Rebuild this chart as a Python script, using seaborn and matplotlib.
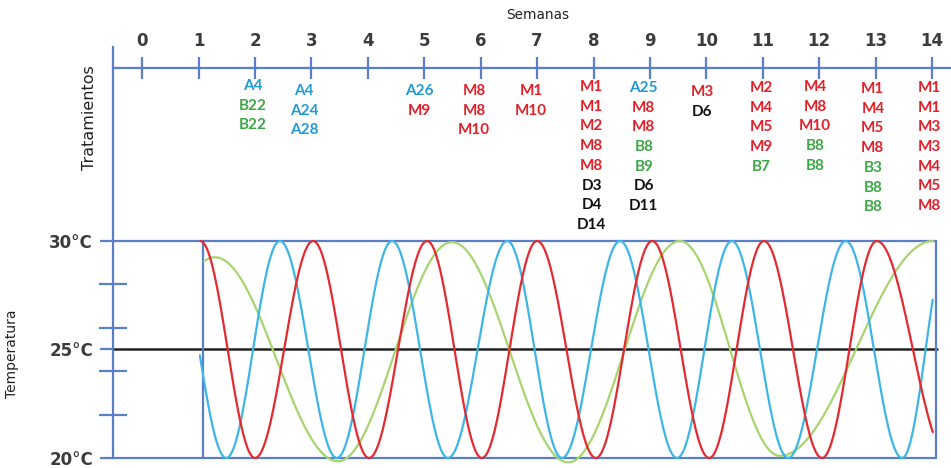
import numpy as np
import pandas as pd
import matplotlib
matplotlib.use("Agg")
import matplotlib.pyplot as plt
import seaborn as sns

sns.set_theme(style="white")
plt.rcParams["font.family"] = ["DejaVu Sans"]

# ---------------------------------------------------------------- data
semanas = list(range(0, 15))

# temperature extremes of each thermal regime (week, °C)
rojo_semanas = [1.03, 2.00, 3.03, 4.02, 5.05, 6.02, 7.00, 8.04, 9.04, 10.05,
                11.02, 12.05, 13.02, 14.30]
rojo_temps = [30, 20, 30, 20, 30, 20, 30, 20, 30, 20, 30, 20, 30, 20]
rojo_tramo = (1.03, 14.02)

azul_semanas = [0.52, 1.49, 2.44, 3.45, 4.43, 5.42, 6.47, 7.44, 8.47, 9.48,
                10.45, 11.45, 12.47, 13.47, 14.30]
azul_temps = [30, 20, 30, 20, 30, 20, 30, 20, 30, 20, 30, 20, 30, 20, 30]
azul_tramo = (1.02, 14.02)

verde_semanas = [-0.90, 1.29, 3.47, 5.49, 7.55, 9.53, 11.30, 14.02]
verde_temps = [19.85, 29.25, 19.85, 29.95, 19.8, 30.0, 20.1, 30.0]
verde_tramo = (1.08, 14.02)

# treatments applied, grouped by column along the week axis
trat_semana = [1.96, 2.87, 4.92, 5.88, 6.89, 7.97, 8.89, 9.92, 10.97, 11.93,
               12.95, 13.95, 14.49]
tratamientos = [
    ["A4", "B22", "B22"],
    ["A4", "A24", "A28"],
    ["A26", "M9"],
    ["M8", "M8", "M10"],
    ["M1", "M10"],
    ["M1", "M1", "M2", "M8", "M8", "D3", "D4", "D14"],
    ["A25", "M8", "M8", "B8", "B9", "D6", "D11"],
    ["M3", "D6"],
    ["M2", "M4", "M5", "M9", "B7"],
    ["M4", "M8", "M10", "B8", "B8"],
    ["M1", "M4", "M5", "M8", "B3", "B8", "B8"],
    ["M1", "M1", "M3", "M3", "M4", "M5", "M8"],
    ["B8", "B8"],
]
# vertical start of each column (pixels from the top of the panel)
trat_inicio = [86, 91, 91, 91, 91, 87, 88, 92, 88, 87, 89, 88, 177]

# ---------------------------------------------------------------- style
EJE = "#5A7EC8"
C_ROJO = "#E42A31"
C_AZUL = "#3DB5E6"
C_VERDE = "#A8D470"
C_TEXTO = {"A": "#1F9AD6", "B": "#3CA845", "M": "#E2202A", "D": "#111111"}
GRIS = "#3C3C3C"


def onda(ws, ts, tramo, n=90):
    """Smooth half-cosine swings between consecutive extremes."""
    xs, ys = [], []
    for w0, t0, w1, t1 in zip(ws[:-1], ts[:-1], ws[1:], ts[1:]):
        s = np.linspace(0, 1, n)
        xs.append(w0 + (w1 - w0) * s)
        ys.append(t0 + (t1 - t0) * (1 - np.cos(np.pi * s)) / 2)
    x = np.concatenate(xs)
    y = np.concatenate(ys)
    keep = (x >= tramo[0]) & (x <= tramo[1])
    return x[keep], y[keep]


frames = []
for nombre, ws, ts, tr in [("verde", verde_semanas, verde_temps, verde_tramo),
                           ("azul", azul_semanas, azul_temps, azul_tramo),
                           ("rojo", rojo_semanas, rojo_temps, rojo_tramo)]:
    x, y = onda(ws, ts, tr)
    frames.append(pd.DataFrame({"semana": x, "temp": y, "serie": nombre}))
df = pd.concat(frames, ignore_index=True)

# ---------------------------------------------------------------- figure
W, H = 951, 468
fig = plt.figure(figsize=(W / 100, H / 100), dpi=100)
fig.patch.set_facecolor("white")

# week scale: week w sits at 142.2 + 56.42*w pixels
X0, SC = 142.2, 56.42
XL = ((113 - X0) / SC, (W - X0) / SC)

ax_t = fig.add_axes([113 / W, 1 - 458 / H, (W - 113) / W, (458 - 241) / H])
ax_w = fig.add_axes([113 / W, 1 - 241 / H, (W - 113) / W, (241 - 47) / H])
for ax in (ax_t, ax_w):
    ax.set_facecolor("none")
    for s in ax.spines.values():
        s.set_visible(False)
    ax.spines["left"].set_visible(True)
    ax.spines["left"].set_color(EJE)
    ax.spines["left"].set_linewidth(1.6)
    ax.set_xlim(*XL)

# ---- temperature panel
ax_t.set_ylim(20, 30)
sns.lineplot(data=df, x="semana", y="temp", hue="serie",
             hue_order=["verde", "azul", "rojo"],
             palette={"verde": C_VERDE, "azul": C_AZUL, "rojo": C_ROJO},
             estimator=None, sort=False, legend=False, linewidth=1.6, ax=ax_t)
for ln in ax_t.lines:
    ln.set_clip_on(False)

caja_izq = (203 - X0) / SC
caja_der = (935.5 - X0) / SC
fr_der = (935.5 - 113) / (W - 113)
for yv in (20, 30):
    ax_t.axhline(yv, xmin=0, xmax=fr_der, color=EJE, lw=1.6, clip_on=False,
                 zorder=1)
ax_t.axhline(25, xmin=0, xmax=(937 - 113) / (W - 113), color="#222222",
             lw=1.8, clip_on=False, zorder=1)
for xv in (caja_izq, caja_der):
    ax_t.plot([xv, xv], [20, 30], color=EJE, lw=1.6, clip_on=False, zorder=1)

ax_t.set_xticks([])
ax_t.tick_params(axis="x", bottom=False, labelbottom=False)
ax_t.set_yticks([20, 25, 30])
ax_t.set_yticklabels(["20°C", "25°C", "30°C"], fontweight="bold",
                     fontsize=12, color=GRIS)
ax_t.set_yticks([22, 24, 26, 28], minor=True)
ax_t.tick_params(axis="y", which="major", direction="out", length=9.4,
                 width=1.6, color=EJE, pad=5, left=True)
ax_t.tick_params(axis="y", which="minor", direction="inout", length=20,
                 width=1.6, color=EJE, left=True)
ax_t.set_xlabel("")
ax_t.set_ylabel("Temperatura", fontsize=10, color="#222222")
ax_t.yaxis.set_label_coords((19 - 113) / (W - 113), (458 - 354) / 217)

# ---- week / treatment panel (y in pixels from the top)
ax_w.set_ylim(241, 47)
ax_w.spines["top"].set_visible(True)
ax_w.spines["top"].set_color(EJE)
ax_w.spines["top"].set_linewidth(1.6)
ax_w.spines["top"].set_position(("data", 68))
ax_w.xaxis.tick_top()
ax_w.set_xticks(semanas)
ax_w.set_xticklabels([str(s) for s in semanas], fontweight="bold",
                     fontsize=12, color=GRIS)
ax_w.tick_params(axis="x", which="major", direction="inout", length=15.8,
                 width=1.6, color=EJE, pad=5, top=True, bottom=False,
                 labelbottom=False, labeltop=True)
ax_w.set_yticks([])
ax_w.xaxis.set_label_position("top")
ax_w.set_xlabel("Semanas", fontsize=9.8, color="#222222")
ax_w.xaxis.set_label_coords((538 - 113) / (W - 113), (241 - 19) / 194)
ax_w.set_ylabel("Tratamientos", fontsize=11.5, color="#222222")
ax_w.yaxis.set_label_coords((97 - 113) / (W - 113), (241 - 118) / 194)

PASO = 19.7
for xs, labs, y0 in zip(trat_semana, tratamientos, trat_inicio):
    for i, lab in enumerate(labs):
        ax_w.text(xs, y0 + i * PASO, lab, ha="center", va="center",
                  fontsize=11, fontweight="bold", family=["Lato", "DejaVu Sans"],
                  color=C_TEXTO[lab[0]], clip_on=False)

fig.savefig("out.png", dpi=100, facecolor="white")
